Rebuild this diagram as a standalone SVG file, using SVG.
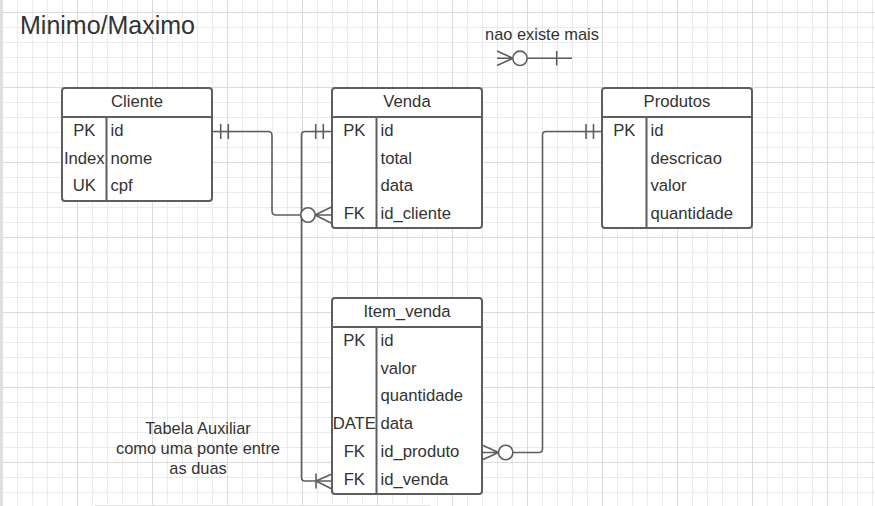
<svg xmlns="http://www.w3.org/2000/svg" width="875" height="506" viewBox="0 0 875 506">
<defs>
<pattern id="grid" patternUnits="userSpaceOnUse" x="2" y="12" width="75" height="75">
<path d="M15.5 0V75M30.5 0V75M45.5 0V75M60.5 0V75M0 15.5H75M0 30.5H75M0 45.5H75M0 60.5H75" stroke="#ebebeb" stroke-width="1" fill="none"/>
<path d="M0.5 0V75M0 0.5H75" stroke="#dadada" stroke-width="1" fill="none"/>
</pattern>
<style>
.tbl{fill:#ffffff;stroke:#5e5e5e;stroke-width:2}
.ln{stroke:#5e5e5e;stroke-width:2;fill:none}
.cn{stroke:#5e5e5e;stroke-width:1.6;fill:none;stroke-linejoin:round}
.ci{stroke:#5e5e5e;stroke-width:1.6;fill:#ffffff}
text{font-family:"Liberation Sans",Arial,sans-serif;fill:#333333}
.h{font-size:16.7px;text-anchor:middle}
.k{font-size:16.7px;text-anchor:middle}
.f{font-size:16.7px}
.n{font-size:16.4px;text-anchor:middle}
</style>
</defs>
<rect x="0" y="0" width="875" height="506" fill="#ffffff"/>
<rect x="0" y="0" width="875" height="506" fill="url(#grid)"/>
<rect x="0" y="0" width="3" height="506" fill="#e0e0e0"/>
<line x1="95" y1="505.5" x2="430" y2="505.5" stroke="#e3e3e3" stroke-width="1"/>

<text x="20" y="33.5" style="font-size:25px">Minimo/Maximo</text>

<g id="legend">
<text class="n" x="542" y="39.5">nao existe mais</text>
<path class="cn" d="M497 51L513 58.3M497 65.6L513 58.3M497 58.3H513M527.3 58.3H572M556.7 51V65.6"/>
<circle class="ci" cx="520" cy="58.3" r="7.2"/>
</g>

<g id="note">
<text class="n" x="198" y="433.5">Tabela Auxiliar</text>
<text class="n" x="198" y="453.5">como uma ponte entre</text>
<text class="n" x="198" y="473.5">as duas</text>
</g>

<g id="connectors">
<path class="cn" d="M213 131.5H268Q272 131.5 272 135.5V211Q272 215 276 215H301"/>
<path class="cn" d="M220.7 124V139M228.3 124V139"/>
<path class="cn" d="M315 215L332 206.7M315 215L332 223.5M315 215H332"/>
<path class="cn" d="M332 131.5H305Q301.5 131.5 301.5 135V477.5Q301.5 481 305 481H332"/>
<path class="cn" d="M315.7 124V139M323.3 124V139"/>
<path class="cn" d="M316 473.5V488.5M316 481L332 474M316 481L332 489"/>
<circle class="ci" cx="308" cy="215" r="7.2"/>
<path class="cn" d="M602 131.5H546Q542.5 131.5 542.5 135V449Q542.5 452.5 539 452.5H513"/>
<path class="cn" d="M586 124V139M593.5 124V139"/>
<path class="cn" d="M498.5 452.5L482 445M498.5 452.5L482 460M498.5 452.5H482"/>
<circle class="ci" cx="505.7" cy="452.5" r="7.2"/>
</g>

<g id="cliente">
<rect class="tbl" x="62" y="88" width="150" height="113" rx="3"/>
<path class="ln" d="M62 117H212M106.5 117V201"/>
<text class="h" x="137" y="106.7">Cliente</text>
<text class="k" x="84.3" y="136">PK</text>
<text class="k" x="84.3" y="163.5">Index</text>
<text class="k" x="84.3" y="191">UK</text>
<text class="f" x="110.5" y="136">id</text>
<text class="f" x="110.5" y="163.5">nome</text>
<text class="f" x="110.5" y="191">cpf</text>
</g>

<g id="venda">
<rect class="tbl" x="332" y="88" width="150" height="140" rx="3"/>
<path class="ln" d="M332 117H482M376.5 117V228"/>
<text class="h" x="407" y="106.7">Venda</text>
<text class="k" x="354.3" y="136">PK</text>
<text class="k" x="354.3" y="218.7">FK</text>
<text class="f" x="380.5" y="136">id</text>
<text class="f" x="380.5" y="163.5">total</text>
<text class="f" x="380.5" y="191">data</text>
<text class="f" x="380.5" y="218.7">id_cliente</text>
</g>

<g id="produtos">
<rect class="tbl" x="602" y="88" width="150" height="140" rx="3"/>
<path class="ln" d="M602 117H752M646.5 117V228"/>
<text class="h" x="677" y="106.7">Produtos</text>
<text class="k" x="624.3" y="136">PK</text>
<text class="f" x="650.5" y="136">id</text>
<text class="f" x="650.5" y="163.5">descricao</text>
<text class="f" x="650.5" y="191">valor</text>
<text class="f" x="650.5" y="218.7">quantidade</text>
</g>

<g id="item_venda">
<rect class="tbl" x="332" y="298" width="150" height="196" rx="3"/>
<path class="ln" d="M332 327H482M376.5 327V494"/>
<text class="h" x="407" y="316.7">Item_venda</text>
<text class="k" x="354.3" y="346">PK</text>
<text class="k" x="354.3" y="428.7">DATE</text>
<text class="k" x="354.3" y="456.7">FK</text>
<text class="k" x="354.3" y="484.7">FK</text>
<text class="f" x="380.5" y="346">id</text>
<text class="f" x="380.5" y="373.7">valor</text>
<text class="f" x="380.5" y="401.3">quantidade</text>
<text class="f" x="380.5" y="428.7">data</text>
<text class="f" x="380.5" y="456.7">id_produto</text>
<text class="f" x="380.5" y="484.7">id_venda</text>
</g>
</svg>
